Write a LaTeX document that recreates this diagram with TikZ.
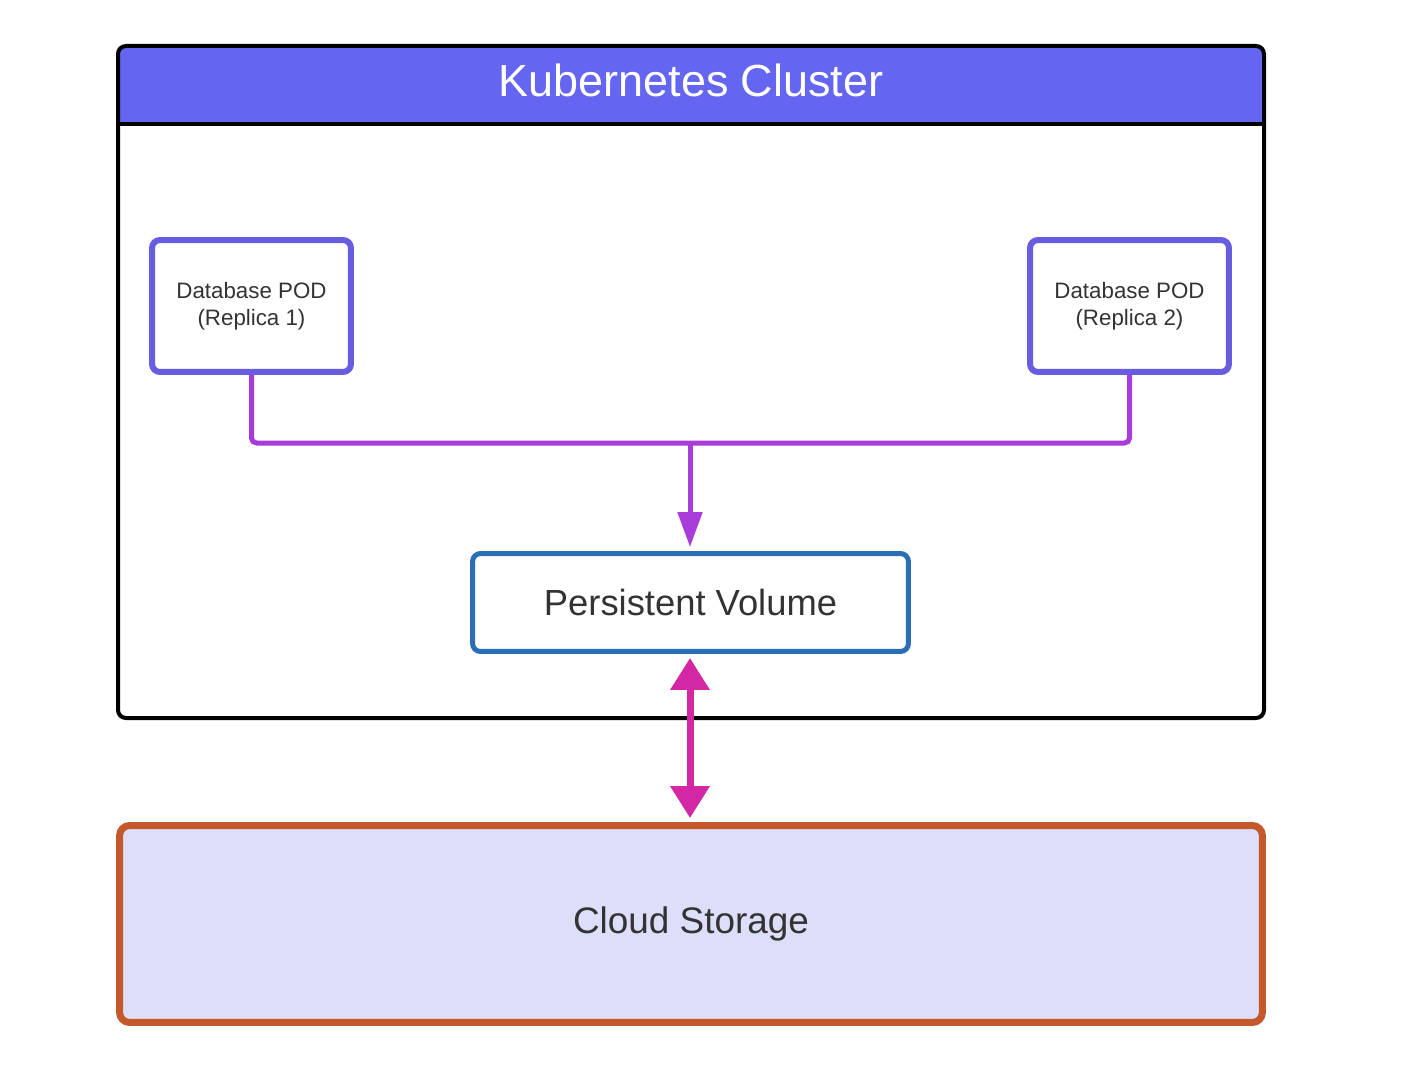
\documentclass[tikz,border=0pt]{standalone}
\usepackage{fontspec}
\setmainfont{Liberation Sans}
\usetikzlibrary{arrows.meta,positioning}

\definecolor{headblue}{RGB}{100,102,241}
\definecolor{podblue}{RGB}{104,92,224}
\definecolor{linkpurple}{RGB}{168,60,218}
\definecolor{pvblue}{RGB}{42,111,181}
\definecolor{syncpink}{RGB}{210,40,165}
\definecolor{cloudorange}{RGB}{196,88,42}
\definecolor{cloudfill}{RGB}{221,223,250}
\definecolor{txtgray}{RGB}{51,51,51}

\tikzset{
  podbox/.style={draw=podblue, line width=0.12cm, rounded corners=0.16cm, fill=white,
    minimum width=3.98cm, minimum height=2.64cm, align=center, text=txtgray,
    font=\fontsize{12.7}{15.5}\selectfont},
  pvbox/.style={draw=pvblue, line width=0.1cm, rounded corners=0.16cm, fill=white,
    minimum width=8.72cm, minimum height=1.96cm, text=txtgray,
    font=\fontsize{20.7}{24}\selectfont},
  cloudbox/.style={draw=cloudorange, line width=0.14cm, rounded corners=0.2cm, fill=cloudfill,
    minimum width=22.86cm, minimum height=3.94cm, text=txtgray,
    font=\fontsize{21}{24}\selectfont},
  link/.style={draw=linkpurple, line width=0.1cm},
  sync/.style={draw=syncpink, line width=0.14cm,
    {Triangle[width=0.76cm,length=0.64cm]}-{Triangle[width=0.76cm,length=0.64cm]}}
}

\begin{document}
\begin{tikzpicture}[x=0.02cm,y=-0.02cm]
\useasboundingbox[fill=white] (0,0) rectangle (1404,1068);

% cluster frame
\fill[headblue, rounded corners=0.16cm] (118,46) rectangle (1264,124);
\draw[line width=0.08cm] (118,124) -- (1264,124);
\draw[line width=0.08cm, rounded corners=0.16cm] (118,46) rectangle (1264,718);
\node[text=white, font=\fontsize{25.6}{30}\selectfont] (title) at (691,80) {Kubernetes Cluster};

\node[podbox] (pod1) at (251.5,306) {Database POD\\(Replica 1)};
\node[podbox] (pod2) at (1129.5,306) {Database POD\\(Replica 2)};
\node[pvbox] (pv) at (690.5,602.5) {Persistent Volume};
\node[cloudbox] (cloud) at (691,924) {Cloud Storage};

\coordinate (join) at (690,443);
\draw[link, rounded corners=0.1cm] (pod1.south) |- (join) -| (pod2.south);
\draw[link, -{Triangle[width=0.48cm,length=0.7cm]}, shorten >=0.08cm] (join) -- (pv.north -| join);

\draw[sync, shorten <=0.08cm, shorten >=0.08cm] (pv.south -| join) -- (cloud.north -| join);
\end{tikzpicture}
\end{document}
